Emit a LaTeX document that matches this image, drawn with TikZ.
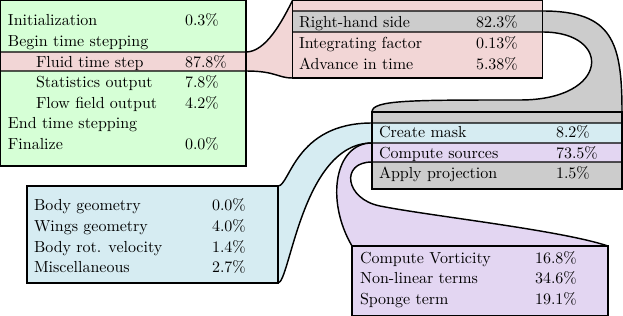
\documentclass[tikz,border=0pt]{standalone}
\usepackage{xcolor}
\usepackage{tikz}
\usetikzlibrary{fit}

\definecolor{greenfill}{RGB}{214,255,214}
\definecolor{pinkfill}{RGB}{242,214,214}
\definecolor{grayfill}{RGB}{204,204,204}
\definecolor{bluefill}{RGB}{214,236,242}
\definecolor{purplefill}{RGB}{227,214,242}

\begin{document}
\begin{tikzpicture}[x=0.625pt, y=-0.625pt, line width=0.9pt,
          box/.style={rectangle, draw=none, inner sep=0pt, outer sep=0pt},
          txt/.style={anchor=base west, inner sep=0pt, outer sep=0pt}]
          \useasboundingbox (0,0) rectangle (623,316);

          % boxes
          \node[box, fill=greenfill, fit={(0.5,0.5) (246,166)}] (green) {};
          \node[box, fill=pinkfill, fit={(292.5,0.5) (542.5,78)}] (pinkbox) {};
          \node[box, fill=grayfill, fit={(372,112) (622,189)}] (graybox) {};
          \node[box, fill=bluefill, fit={(27,186) (278,283)}] (bluebox) {};
          \node[box, fill=purplefill, fit={(352,246) (608,315.5)}] (purplebox) {};

          % rows that open up
          \node[box, fit={(0.5,52) (246,71)}] (fluid) {};
          \node[box, fit={(292.5,11) (542.5,32)}] (rhs) {};
          \node[box, fit={(372,123) (622,143)}] (mask) {};
          \node[box, fit={(372,143) (622,162)}] (sources) {};
          \coordinate (bend) at (520,100);
          \coordinate (turn) at (380,206);

          % fluid time step
          \fill[pinkfill] (fluid.north west) -- (fluid.north east)
            .. controls +(20,0) and +(-10,20) .. (pinkbox.north west)
            -- (pinkbox.south west)
            .. controls +(-15,0) and +(30,0) .. (fluid.south east)
            -- (fluid.south west) -- cycle;
          \draw (fluid.north west) -- (fluid.north east)
            .. controls +(20,0) and +(-10,20) .. (pinkbox.north west);
          \draw (fluid.south west) -- (fluid.south east)
            .. controls +(30,0) and +(-15,0) .. (pinkbox.south west);

          % right-hand side
          \fill[grayfill] (rhs.north west) -- (rhs.north east)
            .. controls +(70,0) and +(0,-70) .. (graybox.north east)
            -- (graybox.north west)
            .. controls +(0,-12) and +(-110,0) .. (bend)
            .. controls +(90,0) and +(70,0) .. (rhs.south east)
            -- (rhs.south west) -- cycle;
          \draw (rhs.north west) -- (rhs.north east)
            .. controls +(70,0) and +(0,-70) .. (graybox.north east);
          \draw (rhs.south west) -- (rhs.south east)
            .. controls +(70,0) and +(90,0) .. (bend)
            .. controls +(-110,0) and +(0,-12) .. (graybox.north west);

          % create mask
          \fill[bluefill] (mask.north east) -- (mask.north west)
            .. controls +(-77,0) and +(12,0) .. (bluebox.north east)
            -- (bluebox.south east)
            .. controls +(12,0) and +(-70,0) .. (mask.south west)
            -- (mask.south east) -- cycle;
          \draw (mask.north east) -- (mask.north west)
            .. controls +(-77,0) and +(12,0) .. (bluebox.north east);
          \draw (mask.south west)
            .. controls +(-70,0) and +(12,0) .. (bluebox.south east);

          % compute sources
          \fill[purplefill] (sources.north east) -- (sources.north west)
            .. controls +(-37,0) and +(-27,-46) .. (purplebox.north west)
            -- (purplebox.north east)
            .. controls +(-48,-16) and +(50,10) .. (turn)
            .. controls +(-35,-7) and +(-32,0) .. (sources.south west)
            -- (sources.south east) -- cycle;
          \draw (sources.north east) -- (sources.north west)
            .. controls +(-37,0) and +(-27,-46) .. (purplebox.north west);
          \draw (sources.south east) -- (sources.south west)
            .. controls +(-32,0) and +(-35,-7) .. (turn)
            .. controls +(50,10) and +(-48,-16) .. (purplebox.north east);

          \foreach \b in {green,pinkbox,graybox,bluebox,purplebox}
            \draw (\b.north west) rectangle (\b.south east);

          % main loop
          \node[txt] (init) at (8,26) {Initialization};
          \node[txt] (initp) at (185,26) {0.3\%};
          \node[txt] (begin) at (8,46.6) {Begin time stepping};
          \node[txt] (fluidt) at (36,67.2) {Fluid time step};
          \node[txt] (fluidp) at (185,67.2) {87.8\%};
          \node[txt] (stats) at (36,87.8) {Statistics output};
          \node[txt] (statsp) at (185,87.8) {7.8\%};
          \node[txt] (flow) at (36,108.4) {Flow field output};
          \node[txt] (flowp) at (185,108.4) {4.2\%};
          \node[txt] (endt) at (8,129) {End time stepping};
          \node[txt] (final) at (8,149.6) {Finalize};
          \node[txt] (finalp) at (185,149.6) {0.0\%};

          % fluid time step
          \node[txt] (rhst) at (299,28) {Right-hand side};
          \node[txt] (rhsp) at (476,28) {82.3\%};
          \node[txt] (intf) at (299,48.6) {Integrating factor};
          \node[txt] (intfp) at (476,48.6) {0.13\%};
          \node[txt] (adv) at (299,69.2) {Advance in time};
          \node[txt] (advp) at (476,69.2) {5.38\%};

          % right-hand side
          \node[txt] (maskt) at (379,137.5) {Create mask};
          \node[txt] (maskp) at (556,137.5) {8.2\%};
          \node[txt] (srct) at (379,158.1) {Compute sources};
          \node[txt] (srcp) at (556,158.1) {73.5\%};
          \node[txt] (proj) at (379,178.7) {Apply projection};
          \node[txt] (projp) at (556,178.7) {1.5\%};

          % create mask
          \node[txt] (bodyg) at (34,211) {Body geometry};
          \node[txt] (bodygp) at (212,211) {0.0\%};
          \node[txt] (wings) at (34,231.6) {Wings geometry};
          \node[txt] (wingsp) at (212,231.6) {4.0\%};
          \node[txt] (rot) at (34,252.2) {Body rot. velocity};
          \node[txt] (rotp) at (212,252.2) {1.4\%};
          \node[txt] (misc) at (34,272.8) {Miscellaneous};
          \node[txt] (miscp) at (212,272.8) {2.7\%};

          % compute sources
          \node[txt] (vort) at (360,263) {Compute Vorticity};
          \node[txt] (vortp) at (535,263) {16.8\%};
          \node[txt] (nonlin) at (360,283.6) {Non-linear terms};
          \node[txt] (nonlinp) at (535,283.6) {34.6\%};
          \node[txt] (sponge) at (360,304.2) {Sponge term};
          \node[txt] (spongep) at (535,304.2) {19.1\%};
        \end{tikzpicture}
\end{document}
